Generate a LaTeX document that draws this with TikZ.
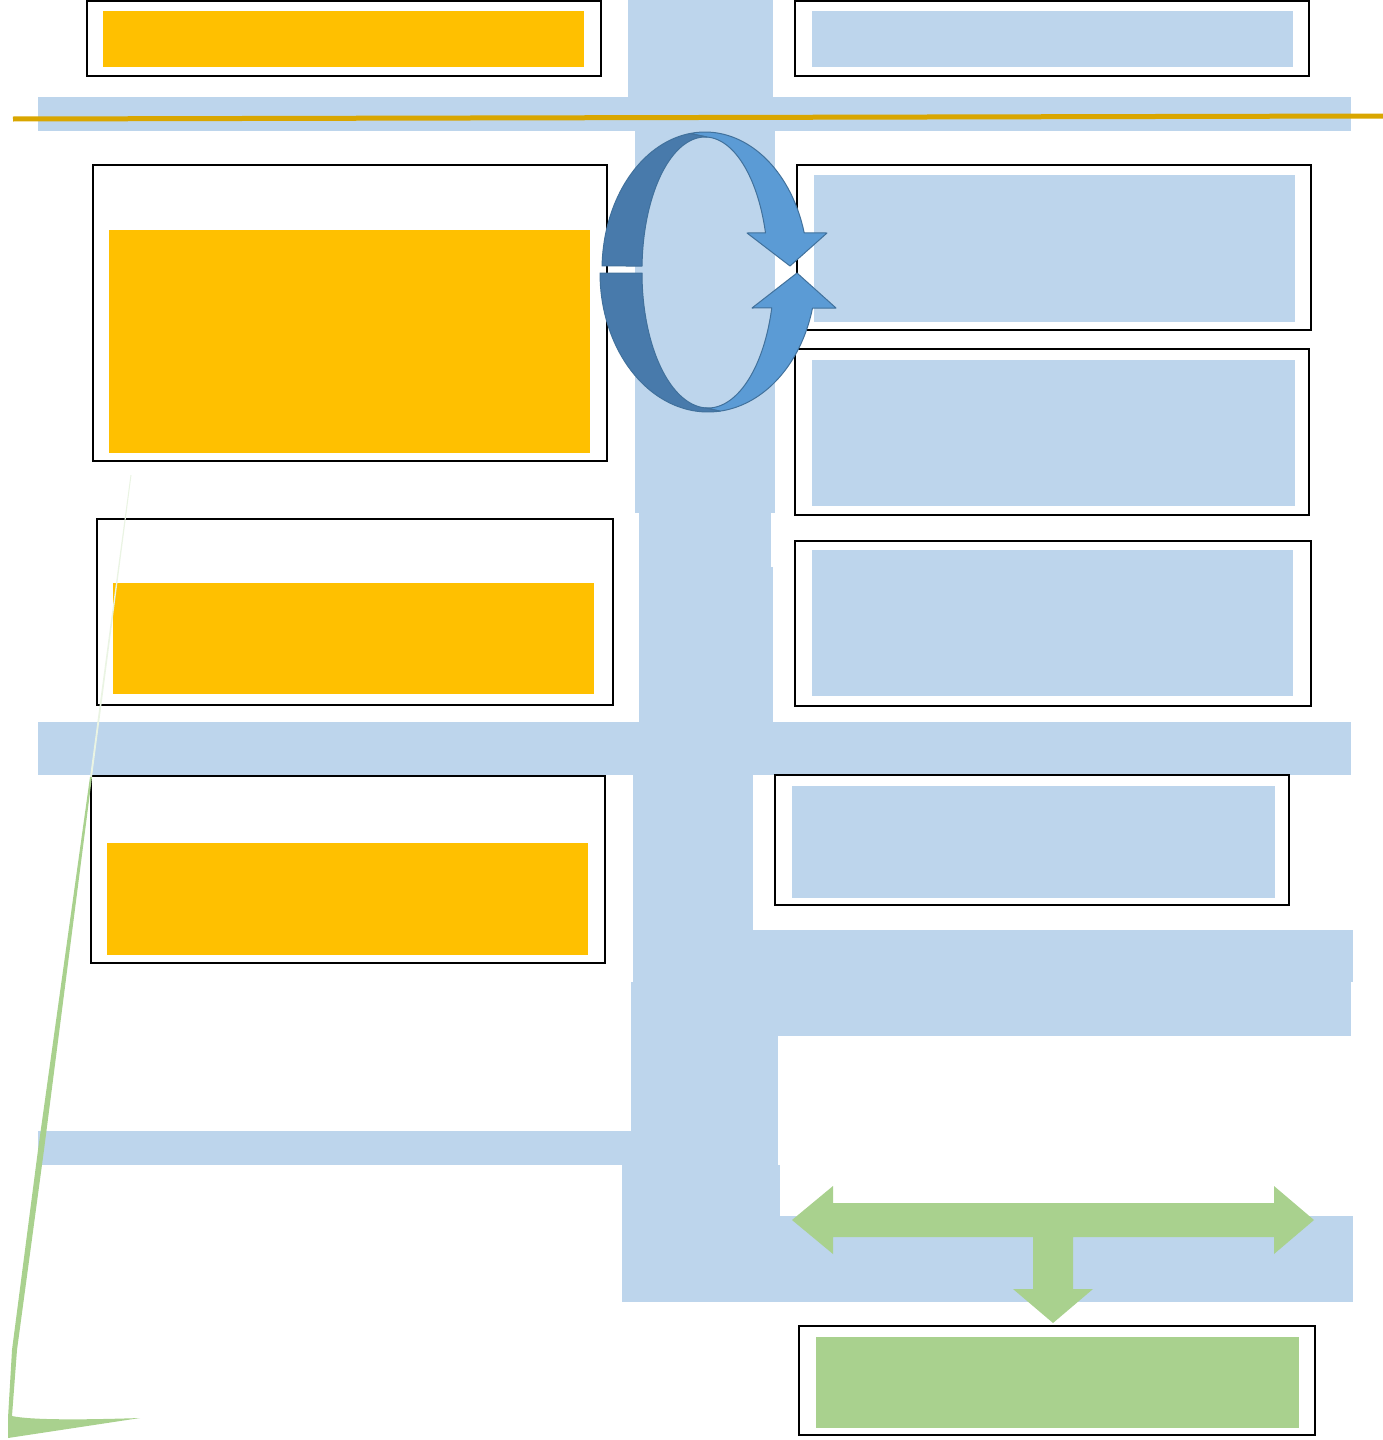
\documentclass[tikz,border=0pt]{standalone}
\usetikzlibrary{calc}
\definecolor{bandblue}{HTML}{BDD5EC}
\definecolor{boxyellow}{HTML}{FFC000}
\definecolor{leafgreen}{HTML}{A9D18E}
\definecolor{goldline}{HTML}{D9A600}
\definecolor{cycdark}{HTML}{487AAB}
\definecolor{cyclight}{HTML}{5B9BD5}
\definecolor{cycedge}{HTML}{41719C}
\tikzset{
  band/.style={fill=bandblue, draw=none},
  frame/.style={draw=black, line width=2pt, fill=white},
  yfill/.style={fill=boxyellow, draw=none},
  bfill/.style={fill=bandblue, draw=none},
  gfill/.style={fill=leafgreen, draw=none},
  cycd/.style={fill=cycdark, draw=cycedge, line width=1pt, line join=round},
  cycl/.style={fill=cyclight, draw=cycedge, line width=1pt, line join=round},
}
\begin{document}
\begin{tikzpicture}[x=1pt,y=-1pt]
\useasboundingbox (0,0) rectangle (1383,1440);
% blue spine and bands
\fill[band] (628,0) rectangle (773,97);
\fill[band] (38,97) rectangle (1351,131);
\fill[band] (635,131) rectangle (775,513);
\fill[band] (639,513) rectangle (771,567);
\fill[band] (639,567) rectangle (773,722);
\fill[band] (38,722) rectangle (1351,775);
\fill[band] (633,775) rectangle (753,982);
\fill[band] (753,930) rectangle (1353,982);
\fill[band] (631,982) rectangle (1351,1036);
\fill[band] (631,1036) rectangle (778,1165);
\fill[band] (38,1131) rectangle (631,1165);
\fill[band] (622,1165) rectangle (780,1216);
\fill[band] (622,1216) rectangle (1353,1302);
% gold line
\draw[goldline, line width=5pt] (13,119) -- (1383,116);
% left boxes
\draw[frame] (87,1) rectangle (601,76);
\fill[yfill] (103,11) rectangle (584,67);
\draw[frame] (93,165) rectangle (607,461);
\fill[yfill] (109,230) rectangle (590,453);
\draw[frame] (97,519) rectangle (613,705);
\fill[yfill] (113,583) rectangle (594,694);
\draw[frame] (91,776) rectangle (605,963);
\fill[yfill] (107,843) rectangle (588,955);
% right boxes
\draw[frame] (795,1) rectangle (1309,76);
\fill[bfill] (812,11) rectangle (1293,67);
\draw[frame] (797,165) rectangle (1311,330);
\fill[bfill] (814,175) rectangle (1295,322);
\draw[frame] (795,349) rectangle (1309,515);
\fill[bfill] (812,360) rectangle (1295,506);
\draw[frame] (795,541) rectangle (1311,706);
\fill[bfill] (812,550) rectangle (1293,696);
\draw[frame] (775,775) rectangle (1289,905);
\fill[bfill] (792,786) rectangle (1275,898);
\draw[frame] (799,1326) rectangle (1315,1435);
\fill[gfill] (816,1337) rectangle (1299,1428);
% cycle arrows: upper
\path[cycl] plot[domain=261.6:344.4, samples=40] ({705+103*cos(\x)},{270+138*sin(\x)})
  -- (827,233) -- (790,266) -- (747,233)
  -- plot[domain=343.8:272, samples=40] ({705+63*cos(\x)},{270+133*sin(\x)}) -- cycle;
\path[cycd] plot[domain=181.7:261.6, samples=40] ({705+103*cos(\x)},{270+138*sin(\x)})
  -- plot[domain=272:181.7, samples=40] ({705+63*cos(\x)},{270+133*sin(\x)}) -- cycle;
% cycle arrows: lower
\path[cycl] plot[domain=83.6:14.6, samples=40] ({708+108*cos(\x)},{273+139*sin(\x)})
  -- (836,308) -- (797,273) -- (752,308)
  -- plot[domain=15:92.6, samples=40] ({708+66*cos(\x)},{273+135*sin(\x)}) -- cycle;
\path[cycd] plot[domain=180:83.6, samples=40] ({708+108*cos(\x)},{273+139*sin(\x)})
  -- plot[domain=92.6:180, samples=40] ({708+66*cos(\x)},{273+135*sin(\x)}) -- cycle;
% green T arrow
\fill[gfill] (792,1220) -- (833,1186) -- (833,1203) -- (1274,1203) -- (1274,1186)
  -- (1314,1220) -- (1274,1254) -- (1274,1237) -- (1073,1237) -- (1073,1289)
  -- (1093,1289) -- (1053,1323) -- (1013,1289) -- (1033,1289) -- (1033,1237)
  -- (833,1237) -- (833,1254) -- cycle;
% green sliver on the left
\fill[leafgreen!25] (130.5,475) -- (131.5,475) -- (92,777) -- (90,777) -- cycle;
\fill[leafgreen] (90,777) -- (92,777) -- (44,1150) -- (17,1350) -- (12,1416)
  .. controls (30,1420) and (80,1420) .. (140,1418) -- (8,1438) -- (8,1418)
  -- (12,1350) -- (38,1150) -- cycle;
\end{tikzpicture}
\end{document}
